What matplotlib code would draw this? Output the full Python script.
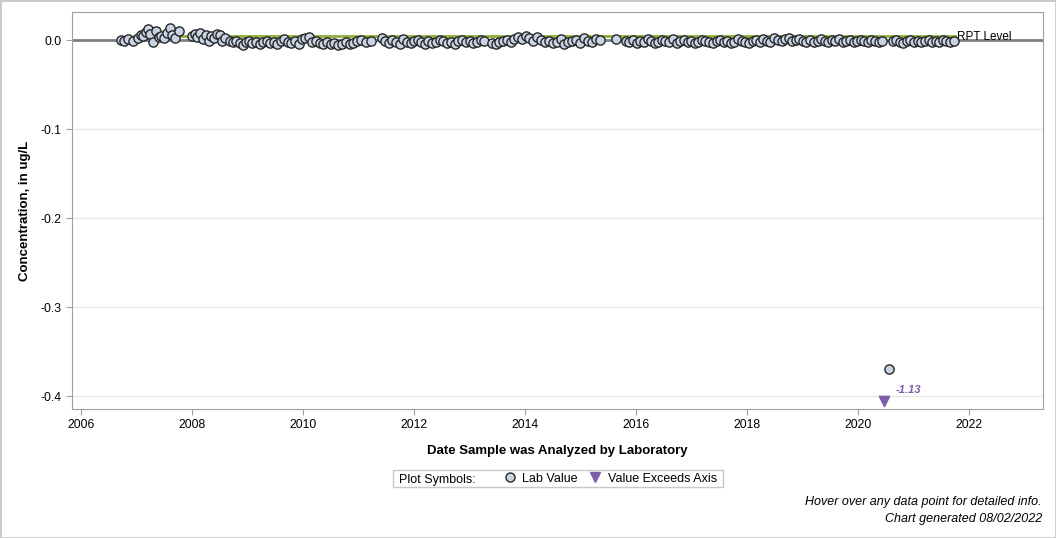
import numpy as np
import matplotlib.pyplot as plt
from matplotlib.lines import Line2D
from matplotlib.patches import Rectangle

plt.rcParams['font.family'] = ['Liberation Sans', 'DejaVu Sans']

# sample dates (decimal year) and concentrations, ug/L
dates_a = [2006.72, 2006.78, 2006.85, 2006.93]
vals_a = [0.000, -0.001, 0.001, -0.001]

dates_b = [2007.02, 2007.08, 2007.12, 2007.17, 2007.21, 2007.25, 2007.30, 2007.35,
           2007.40, 2007.45, 2007.50, 2007.55, 2007.60, 2007.65, 2007.70, 2007.76]
vals_b = [0.002, 0.006, 0.004, 0.009, 0.012, 0.007, -0.002, 0.010,
          0.003, 0.005, 0.002, 0.008, 0.014, 0.006, 0.002, 0.010]

dates_c = [2008.00, 2008.05, 2008.10, 2008.15, 2008.20, 2008.25, 2008.30,
           2008.35, 2008.40, 2008.45, 2008.50, 2008.55, 2008.60]
vals_c = [0.005, 0.007, 0.003, 0.008, 0.001, 0.006, -0.001,
          0.004, 0.002, 0.007, 0.006, -0.001, 0.002]

dates_d = [2008.68, 2008.74, 2008.80, 2008.86, 2008.92, 2008.97, 2009.03, 2009.09,
           2009.15, 2009.22, 2009.28, 2009.35, 2009.41, 2009.47, 2009.54, 2009.60,
           2009.66, 2009.73, 2009.79, 2009.85, 2009.92, 2009.98, 2010.04, 2010.10,
           2010.17, 2010.23, 2010.30, 2010.36, 2010.43, 2010.50, 2010.56, 2010.63,
           2010.70, 2010.77, 2010.84, 2010.91, 2010.98, 2011.05, 2011.13, 2011.22]
vals_d = [-0.001, -0.002, -0.001, -0.003, -0.006, -0.002, -0.001, -0.003,
          -0.002, -0.004, -0.002, -0.001, -0.003, -0.002, -0.005, -0.001,
          0.001, -0.002, -0.003, -0.001, -0.004, 0.001, 0.002, 0.003,
          -0.002, -0.001, -0.003, -0.004, -0.002, -0.005, -0.003, -0.006,
          -0.004, -0.002, -0.005, -0.003, -0.001, 0.000, -0.002, -0.001]

dates_e = [2011.42, 2011.48, 2011.55, 2011.61, 2011.68, 2011.74, 2011.81, 2011.87,
           2011.94, 2012.00, 2012.07, 2012.13, 2012.20, 2012.26, 2012.33, 2012.40,
           2012.46, 2012.53, 2012.60, 2012.66, 2012.73, 2012.80, 2012.86, 2012.93,
           2013.00, 2013.07, 2013.13, 2013.20, 2013.27, 2013.40, 2013.47, 2013.53,
           2013.60, 2013.67, 2013.74, 2013.80, 2013.87, 2013.94, 2014.01, 2014.08,
           2014.15, 2014.22, 2014.29, 2014.36, 2014.43, 2014.50, 2014.57, 2014.64,
           2014.71, 2014.78, 2014.85, 2014.92, 2014.99, 2015.06, 2015.13, 2015.20]
vals_e = [0.002, -0.001, -0.003, 0.000, -0.002, -0.004, 0.001, -0.002,
          -0.003, -0.001, 0.000, -0.002, -0.004, -0.001, -0.003, -0.002,
          0.000, -0.001, -0.003, -0.002, -0.004, -0.001, 0.000, -0.002,
          -0.001, -0.003, -0.002, 0.000, -0.001, -0.003, -0.004, -0.002,
          -0.001, 0.000, -0.002, 0.001, 0.003, 0.001, 0.004, 0.002,
          -0.001, 0.003, 0.000, -0.002, -0.001, -0.003, -0.002, 0.001,
          -0.004, -0.002, -0.001, 0.000, -0.003, 0.002, -0.001, -0.002]

dates_f = [2015.27, 2015.35, 2015.63]
vals_f = [0.001, 0.000, 0.001]

dates_g = [2015.82, 2015.88, 2015.95, 2016.01, 2016.08, 2016.14, 2016.21, 2016.27,
           2016.34, 2016.40, 2016.47, 2016.53, 2016.60, 2016.67, 2016.73, 2016.80,
           2016.86, 2016.93, 2016.99, 2017.06, 2017.12, 2017.19, 2017.25, 2017.32,
           2017.38, 2017.45, 2017.51, 2017.58, 2017.64, 2017.71, 2017.77, 2017.84,
           2017.90, 2017.97, 2018.03, 2018.10, 2018.16, 2018.23, 2018.29, 2018.36,
           2018.42, 2018.49, 2018.55, 2018.62, 2018.68, 2018.75, 2018.81, 2018.88,
           2018.94, 2019.01, 2019.07, 2019.14, 2019.20, 2019.27, 2019.33, 2019.40,
           2019.46, 2019.53, 2019.59, 2019.66, 2019.72, 2019.79, 2019.85, 2019.92,
           2019.98, 2020.05, 2020.11, 2020.18, 2020.24, 2020.31, 2020.37, 2020.43,
           2020.62, 2020.68, 2020.75, 2020.81, 2020.88, 2020.94, 2021.01, 2021.07,
           2021.14, 2021.20, 2021.27, 2021.33, 2021.40, 2021.46, 2021.53, 2021.59,
           2021.66, 2021.72]
vals_g = [-0.001, -0.002, 0.000, -0.003, -0.001, -0.002, 0.001, -0.001,
          -0.003, -0.002, 0.000, -0.001, -0.002, 0.001, -0.003, -0.001,
          0.000, -0.002, -0.001, -0.003, -0.002, 0.000, -0.001, -0.002,
          -0.003, -0.001, 0.000, -0.002, -0.001, -0.003, -0.002, 0.001,
          -0.001, -0.002, -0.003, -0.001, 0.000, -0.002, 0.001, -0.001,
          -0.002, 0.002, 0.000, -0.001, 0.001, 0.002, -0.001, 0.000,
          0.001, -0.001, -0.002, 0.000, -0.002, -0.001, 0.001, -0.001,
          -0.002, 0.000, -0.001, 0.001, -0.002, -0.001, 0.000, -0.002,
          -0.001, 0.000, -0.001, -0.002, 0.000, -0.001, -0.002, -0.001,
          -0.001, 0.000, -0.002, -0.003, -0.001, 0.000, -0.002, -0.001,
          -0.002, -0.001, 0.000, -0.002, -0.001, -0.002, 0.000, -0.001,
          -0.002, -0.001]

outlier_date = [2020.55]
outlier_val = [-0.370]

exceed_date = [2020.47]
exceed_label = ['-1.13']

rpt_level = 0.004
rpt_start, rpt_end = 2006.95, 2021.75

dates = dates_a + dates_b + dates_c + dates_d + dates_e + dates_f + dates_g + outlier_date
vals = vals_a + vals_b + vals_c + vals_d + vals_e + vals_f + vals_g + outlier_val

fill_c = '#c9d3e6'
tri_c = '#7b5ea7'

fig = plt.figure(figsize=(10.56, 5.38), dpi=100)
ax = fig.add_axes([72/1056, 1 - 409/538, (1043 - 72)/1056, (409 - 12)/538])

ymin, ymax = -0.4146, 0.0315
ax.set_xlim(2005.84, 2023.33)
ax.set_ylim(ymin, ymax)

ax.set_yticks([0.0, -0.1, -0.2, -0.3, -0.4])
ax.set_yticklabels(['0.0', '-0.1', '-0.2', '-0.3', '-0.4'])
ax.set_xticks(np.arange(2006, 2023, 2))
ax.grid(axis='y', color='#e6e6e6', linewidth=1)
ax.set_axisbelow(True)
for s in ax.spines.values():
    s.set_color('#a0a0a0')
ax.tick_params(colors='#a0a0a0', labelcolor='black', labelsize=8.7, length=4)

ax.axhline(0, color='#808080', linewidth=2, zorder=2)
ax.plot([rpt_start, rpt_end], [rpt_level, rpt_level], color='#8fae3c', linewidth=2, zorder=2)
ax.text(rpt_end + 0.03, 0.0004, 'RPT Level', fontsize=8.5, va='baseline', ha='left')

ax.scatter(dates, vals, s=44, facecolor=fill_c, edgecolor='#262626', linewidth=1, zorder=3)

tri_y = ymin + 0.009
ax.scatter(exceed_date, [tri_y] * len(exceed_date), marker='v', s=55, color=tri_c, zorder=3)
for d, lab in zip(exceed_date, exceed_label):
    ax.text(d + 0.2, tri_y + 0.012, lab, color=tri_c, fontsize=8, fontweight='bold',
            fontstyle='italic', va='center', ha='left')

ax.set_xlabel('Date Sample was Analyzed by Laboratory', fontsize=9.5, fontweight='bold', labelpad=10)
ax.set_ylabel('Concentration, in ug/L', fontsize=9.5, fontweight='bold', labelpad=7)

# legend box
fig.patches.append(Rectangle((393/1056, 1 - 487/538), 330/1056, 17/538,
                             transform=fig.transFigure, facecolor='white',
                             edgecolor='#c8c8c8', linewidth=1))
fig.text(399/1056, 1 - 479/538, 'Plot Symbols:', fontsize=9, va='center_baseline', ha='left')
handles = [Line2D([], [], linestyle='none', marker='o', markersize=6.5,
                  markerfacecolor=fill_c, markeredgecolor='#262626'),
           Line2D([], [], linestyle='none', marker='v', markersize=7, color=tri_c)]
fig.legend(handles, ['Lab Value', 'Value Exceeds Axis'], ncol=2, frameon=False,
           loc='center left', bbox_to_anchor=(497/1056, 1 - 478.5/538), fontsize=9,
           handlelength=1, handletextpad=0.5, columnspacing=0.9, borderpad=0)

fig.text(1042/1056, 1 - 502/538, 'Hover over any data point for detailed info.',
         fontsize=9, fontstyle='italic', ha='right', va='center')
fig.text(1042/1056, 1 - 519/538, 'Chart generated 08/02/2022',
         fontsize=9, fontstyle='italic', ha='right', va='center')

fig.patches.append(Rectangle((0, 0), 1, 1, transform=fig.transFigure, fill=False,
                             edgecolor='#c8c8c8', linewidth=2))

fig.savefig('out.png', dpi=100)
